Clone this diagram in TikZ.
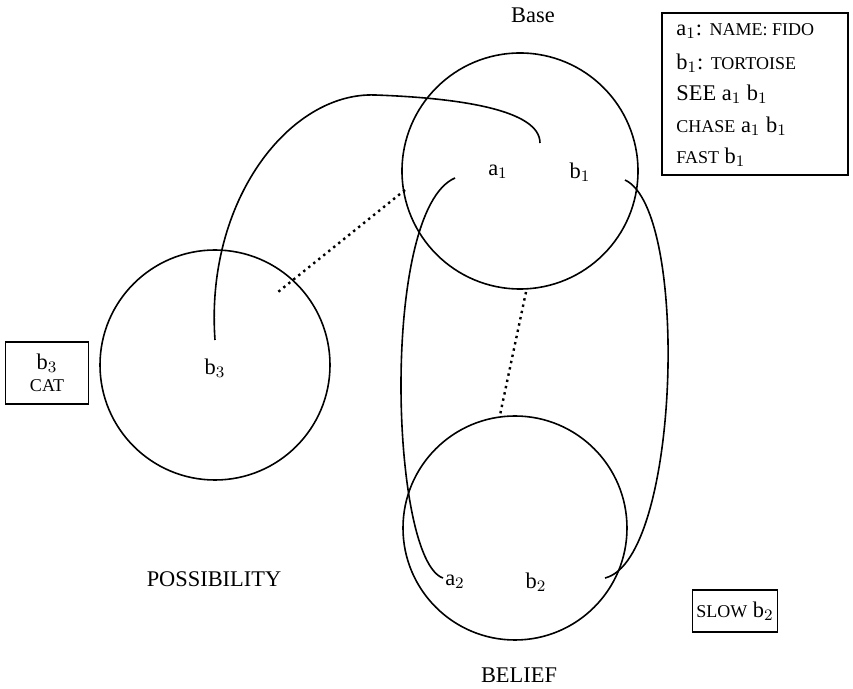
\documentclass[tikz,border=0pt]{standalone}
\usepackage{fontspec}
\setmainfont{Liberation Serif}
\begin{document}
\begin{tikzpicture}[x=0.5pt,y=-0.5pt,
  circ/.style={draw,line width=0.8pt},
  lab/.style={font=\fontsize{11.2}{13}\selectfont,inner sep=0pt},
  boxn/.style={draw,line width=0.8pt,inner sep=0pt},
  link/.style={line width=0.8pt},
  dotl/.style={line width=1.2pt,dotted}]
\useasboundingbox (0,0) rectangle (853,689);
\draw[circ] (520,171) circle[radius=118];
\draw[circ] (215,365) circle[radius=115];
\draw[circ] (515,528) circle[radius=112];
\node[lab] (base) at (533,15) {Base};
\node[lab] (poss) at (214,579) {POSSIBILITY};
\node[lab] (bel) at (519,675) {BELIEF};
\node[lab] (a1) at (498,172) {a$_1$};
\node[lab] (b1) at (580,172) {b$_1$};
\node[lab] (b3) at (215,368) {b$_3$};
\node[lab] (a2) at (455,582) {a$_2$};
\node[lab] (b2) at (536,582) {b$_2$};
\node[boxn,minimum width=93pt,minimum height=81pt] (kb) at (755,94) {};
\node[lab,anchor=west] (k1) at (676,31) {a$_1$: {\small NAME: FIDO}};
\node[lab,anchor=west] (k2) at (676,63) {b$_1$: {\small TORTOISE}};
\node[lab,anchor=west] (k3) at (676,94) {SEE a$_1$ b$_1$};
\node[lab,anchor=west] (k4) at (676,126) {{\small CHASE} a$_1$ b$_1$};
\node[lab,anchor=west] (k5) at (676,157) {{\small FAST} b$_1$};
\node[boxn,minimum width=41.5pt,minimum height=31pt,align=center,lab] (cat) at (47,373) {b$_3$\\[-2pt]{\small CAT}};
\node[boxn,minimum width=42.5pt,minimum height=21pt,lab] (slow) at (735,611) {{\small SLOW} b$_2$};
\coordinate (p0) at (215,340);
\coordinate (p1) at (540,143);
\coordinate (l0) at (455,178);
\coordinate (l1) at (443,578);
\coordinate (r0) at (625,180);
\coordinate (r1) at (605,578);
\coordinate (d1) at (405,190);
\coordinate (d2) at (278,292);
\coordinate (d3) at (526,292);
\coordinate (d4) at (500,415);
\draw[link] (p0) .. controls (205,200) and (290,92) .. (375,95) .. controls (460,98) and (540,110) .. (p1);
\draw[link] (l0) .. controls (380,210) and (390,560) .. (l1);
\draw[link] (r0) .. controls (690,210) and (680,560) .. (r1);
\draw[dotl] (d1) -- (d2);
\draw[dotl] (d3) -- (d4);
\end{tikzpicture}
\end{document}
